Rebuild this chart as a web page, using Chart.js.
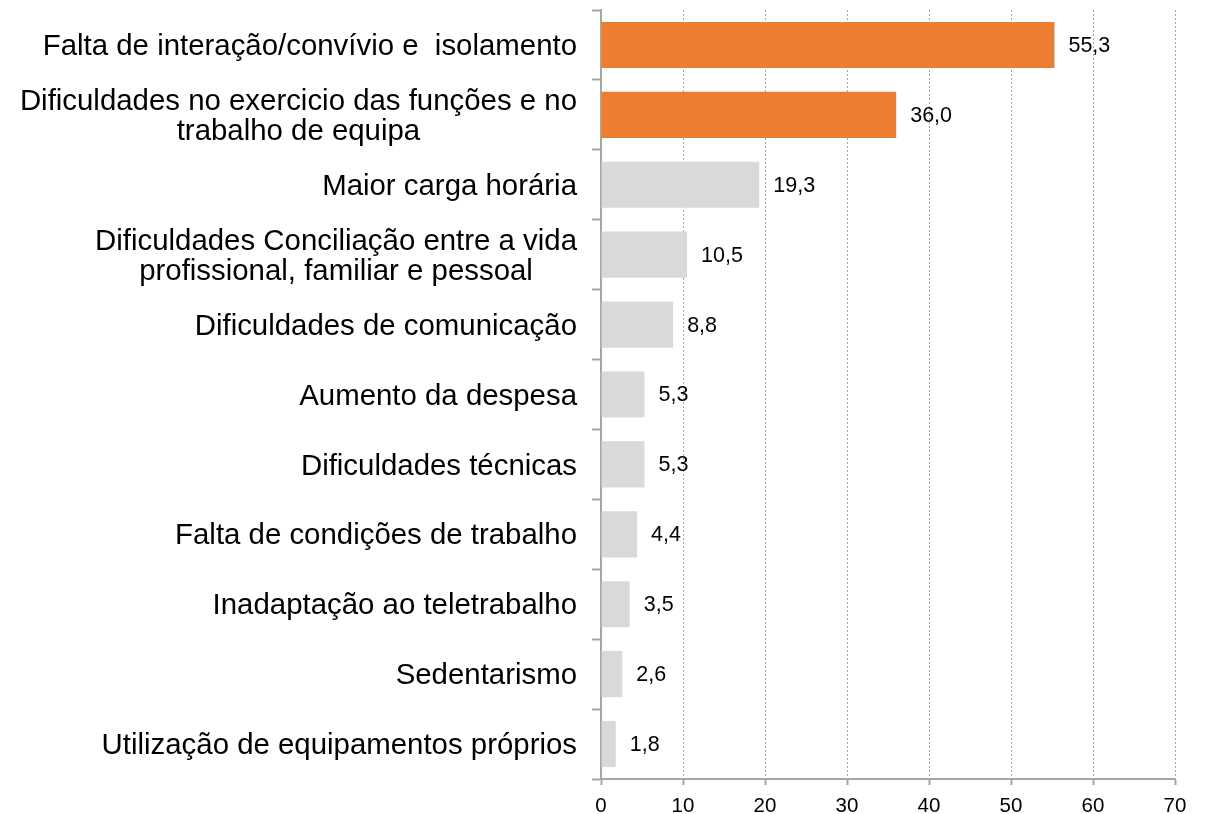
<!DOCTYPE html>
<html>
<head>
<meta charset="utf-8">
<script src="https://cdn.jsdelivr.net/npm/chart.js@4/dist/chart.umd.min.js"></script>
<style>
  html, body { margin: 0; padding: 0; background: #fff; }
  #wrap { width: 1207px; height: 814px; position: relative; }
</style>
</head>
<body>
<div id="wrap"><canvas id="barChart"></canvas></div>
<script>
const categories = [
    'Falta de interação/convívio e  isolamento',
    ['Dificuldades no exercicio das funções e no', 'trabalho de equipa'],
    'Maior carga horária',
    ['Dificuldades Conciliação entre a vida', 'profissional, familiar e pessoal'],
    'Dificuldades de comunicação',
    'Aumento da despesa',
    'Dificuldades técnicas',
    'Falta de condições de trabalho',
    'Inadaptação ao teletrabalho',
    'Sedentarismo',
    'Utilização de equipamentos próprios'
];
const values = [55.3, 36.0, 19.3, 10.5, 8.8, 5.3, 5.3, 4.4, 3.5, 2.6, 1.8];
const highlighted = 2; // first two bars in orange
const xTicks = [0, 10, 20, 30, 40, 50, 60, 70];

const ORANGE = '#ED7D31';
const GREY = '#D9D9D9';
const AXIS = '#A6A6A6';
const FONT = "'Liberation Sans', Arial, sans-serif";

const ctx = document.getElementById('barChart').getContext('2d');

// labels on the left: right aligned, wrapped lines centred on each other
const yLabelPlugin = {
    id: 'yLabels',
    afterDraw(chart) {
        const c = chart.ctx;
        const y = chart.scales.y;
        const right = chart.chartArea.left - 9 - 15;
        const lineH = 30;
        c.save();
        c.font = '29.4px ' + FONT;
        c.fillStyle = '#000';
        c.textBaseline = 'middle';
        c.textAlign = 'center';
        categories.forEach((lab, i) => {
            const lines = Array.isArray(lab) ? lab : [lab];
            const widest = Math.max(...lines.map(l => c.measureText(l).width));
            const cx = right - widest / 2;
            const cy = y.getPixelForTick(i) + 2;
            lines.forEach((l, j) => {
                c.fillText(l, cx, cy + (j - (lines.length - 1) / 2) * lineH);
            });
        });
        c.restore();
    }
};

// value labels at the end of each bar
const valueLabelPlugin = {
    id: 'valueLabels',
    afterDatasetsDraw(chart) {
        const c = chart.ctx;
        const meta = chart.getDatasetMeta(0);
        c.save();
        c.font = '21.5px ' + FONT;
        c.fillStyle = '#000';
        c.textBaseline = 'middle';
        c.textAlign = 'left';
        meta.data.forEach((bar, i) => {
            c.fillText(values[i].toFixed(1).replace('.', ','), bar.x + 14, bar.y + 1);
        });
        c.restore();
    }
};

const chart = new Chart(ctx, {
    type: 'bar',
    data: {
        labels: categories,
        datasets: [{
            data: values,
            backgroundColor: values.map((v, i) => i < highlighted ? ORANGE : GREY),
            barPercentage: 0.66,
            categoryPercentage: 1
        }]
    },
    options: {
        indexAxis: 'y',
        responsive: true,
        maintainAspectRatio: false,
        animation: false,
        layout: { padding: { top: 10, right: 32, left: 0, bottom: 0 } },
        plugins: {
            legend: { display: false },
            tooltip: { enabled: false }
        },
        scales: {
            x: {
                min: 0,
                max: 70,
                afterBuildTicks: s => { s.ticks = xTicks.map(v => ({ value: v })); },
                afterFit: s => { s.height = 35; },
                grid: {
                    color: AXIS,
                    lineWidth: 1,
                    tickColor: AXIS,
                    tickWidth: 2,
                    tickLength: 6,
                    tickBorderDash: [10, 0]
                },
                border: { display: true, color: AXIS, width: 2, dash: [2, 2] },
                ticks: {
                    color: '#000',
                    padding: 9,
                    font: { family: FONT, size: 20.5 }
                }
            },
            y: {
                afterFit: s => { s.width = 601; },
                grid: {
                    drawOnChartArea: false,
                    drawTicks: true,
                    offset: true,
                    tickLength: 9,
                    tickColor: AXIS,
                    tickWidth: 2
                },
                border: { display: true, color: AXIS, width: 2 },
                ticks: { display: false }
            }
        }
    },
    plugins: [yLabelPlugin, valueLabelPlugin]
});
</script>
</body>
</html>
